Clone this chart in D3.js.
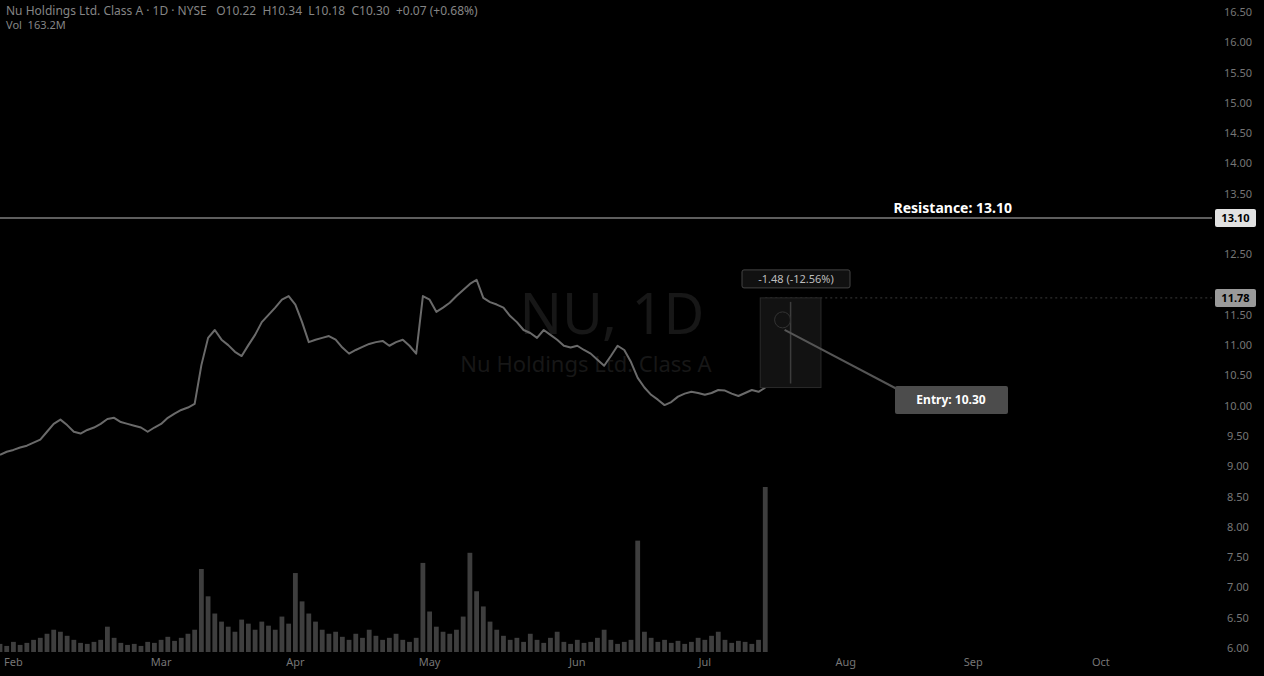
<!DOCTYPE html>
<html>
<head>
<meta charset="utf-8">
<script src="https://cdn.jsdelivr.net/npm/d3@7"></script>
<style>
  html, body { margin: 0; padding: 0; background: #000; }
  svg { display: block; }
  text { font-family: "Noto Sans", "DejaVu Sans", sans-serif; }
</style>
</head>
<body>
<svg id="chart" width="1264" height="676"></svg>
<script>
// ---------- data ----------
const closes = [
  9.19, 9.24, 9.27, 9.31, 9.34, 9.39, 9.44, 9.57, 9.70, 9.77,
  9.68, 9.57, 9.54, 9.60, 9.64, 9.70, 9.78, 9.80, 9.73, 9.70,
  9.67, 9.64, 9.57, 9.64, 9.70, 9.80, 9.87, 9.93, 9.97, 10.03,
  10.67, 11.12, 11.25, 11.09, 11.00, 10.89, 10.82, 11.00, 11.17, 11.38,
  11.50, 11.62, 11.75, 11.81, 11.67, 11.38, 11.05, 11.09, 11.12, 11.15,
  11.09, 10.96, 10.86, 10.92, 10.97, 11.02, 11.05, 11.07, 10.99, 11.05,
  11.09, 10.99, 10.86, 11.81, 11.75, 11.55, 11.62, 11.70, 11.81, 11.91,
  12.01, 12.08, 11.78, 11.71, 11.67, 11.62, 11.48, 11.38, 11.25, 11.20,
  11.12, 11.25, 11.17, 11.09, 10.99, 10.96, 10.99, 10.92, 10.86, 10.76,
  10.66, 10.82, 10.99, 10.92, 10.72, 10.46, 10.30, 10.18, 10.10, 10.01,
  10.06, 10.15, 10.20, 10.23, 10.21, 10.18, 10.21, 10.26, 10.25, 10.20,
  10.16, 10.21, 10.26, 10.23, 10.30
];
const volumes = [ // millions
  8, 6, 10, 7, 9, 12, 14, 18, 22, 20,
  16, 12, 9, 8, 10, 12, 25, 14, 9, 7,
  8, 6, 10, 9, 12, 15, 11, 14, 18, 22,
  82, 55, 38, 30, 25, 20, 32, 28, 22, 30,
  26, 22, 35, 28, 78, 50, 38, 30, 22, 18,
  20, 15, 12, 18, 14, 22, 16, 12, 14, 18,
  12, 10, 14, 88, 40, 25, 20, 18, 22, 35,
  98, 60, 45, 30, 22, 16, 12, 14, 10, 18,
  12, 9, 14, 20, 10, 8, 12, 9, 10, 14,
  22, 12, 8, 10, 12, 110, 20, 14, 10, 12,
  9, 11, 8, 10, 14, 12, 16, 20, 12, 9,
  11, 10, 8, 12, 163
];
const monthLabels = ["Feb", "Mar", "Apr", "May", "Jun", "Jul", "Aug", "Sep", "Oct"];
const monthStartIndex = [2, 24, 44, 64, 86, 105, 126, 145, 164];
const priceTicks = d3.range(6.0, 16.51, 0.5);
const resistanceLevel = 13.10;
const rangeTop = 11.78;
const rangeBottom = 10.30;
const rangeStartIndex = 114;
const rangeEndIndex = 122;
const titleText = "Nu Holdings Ltd. Class A · 1D · NYSE   O10.22  H10.34  L10.18  C10.30  +0.07 (+0.68%)";
const volText = "Vol  163.2M";
const watermark = "NU, 1D";
const watermarkSub = "Nu Holdings Ltd. Class A";

// ---------- layout ----------
const W = 1264, H = 676;
const plotRight = 1212;
const svg = d3.select("#chart");
svg.append("rect").attr("width", W).attr("height", H).attr("fill", "#000");

const x = d3.scaleLinear().domain([0, 181]).range([0, plotRight + 3]);
const y = d3.scaleLinear().domain([6.0, 16.5]).range([648, 12]);
const yVol = d3.scaleLinear().domain([0, d3.max(volumes)]).range([652, 487]);

// watermark
svg.append("text").attr("x", 612).attr("y", 334).attr("text-anchor", "middle")
  .attr("font-size", 56).attr("fill", "#171717").text(watermark);
svg.append("text").attr("x", 586).attr("y", 372).attr("text-anchor", "middle")
  .attr("font-size", 22).attr("fill", "#171717").text(watermarkSub);

// volume bars
svg.append("g").selectAll("rect").data(volumes).join("rect")
  .attr("x", (d, i) => x(i) - 2.4)
  .attr("width", 4.8)
  .attr("y", d => yVol(d))
  .attr("height", d => yVol(0) - yVol(d))
  .attr("fill", "#3e3e3e");

// resistance line
svg.append("line").attr("x1", 0).attr("x2", plotRight)
  .attr("y1", y(resistanceLevel)).attr("y2", y(resistanceLevel))
  .attr("stroke", "#5e5e5e").attr("stroke-width", 2);
svg.append("text").attr("x", 1012).attr("y", y(resistanceLevel) - 5)
  .attr("text-anchor", "end").attr("font-size", 14).attr("font-weight", "bold")
  .attr("fill", "#ffffff").text("Resistance: " + resistanceLevel.toFixed(2));

// range level dotted line
svg.append("line").attr("x1", x(rangeStartIndex)).attr("x2", plotRight)
  .attr("y1", y(rangeTop)).attr("y2", y(rangeTop))
  .attr("stroke", "#3a3a3a").attr("stroke-width", 1).attr("stroke-dasharray", "2,3");

// price line
const line = d3.line().x((d, i) => x(i)).y(d => y(d)).curve(d3.curveLinear);
svg.append("path").datum(closes).attr("d", line)
  .attr("fill", "none").attr("stroke", "#6a6a6a").attr("stroke-width", 2)
  .attr("stroke-linejoin", "round");

// price range tool
const rx0 = x(rangeStartIndex) - 5, rx1 = x(rangeEndIndex) + 2;
svg.append("rect").attr("x", rx0).attr("y", y(rangeTop))
  .attr("width", rx1 - rx0).attr("height", y(rangeBottom) - y(rangeTop))
  .attr("fill", "#121212").attr("stroke", "#2a2a2a");
const midX = (rx0 + rx1) / 2;
svg.append("line").attr("x1", midX).attr("x2", midX)
  .attr("y1", y(rangeTop) + 4).attr("y2", y(rangeBottom) - 4)
  .attr("stroke", "#3c3c3c").attr("stroke-width", 1.5);
svg.append("circle").attr("cx", midX - 8).attr("cy", y(rangeTop) + 22).attr("r", 8)
  .attr("fill", "none").attr("stroke", "#333");
const delta = rangeBottom - rangeTop;
const lbl = svg.append("g");
lbl.append("rect").attr("x", 742).attr("y", y(rangeTop) - 28).attr("width", 108).attr("height", 18)
  .attr("fill", "#111").attr("stroke", "#444").attr("rx", 2);
lbl.append("text").attr("x", 796).attr("y", y(rangeTop) - 15).attr("text-anchor", "middle")
  .attr("font-size", 11).attr("fill", "#bdbdbd")
  .text(delta.toFixed(2) + " (" + (delta / rangeTop * 100).toFixed(2) + "%)");

// callout
const cx0 = midX - 6, cy0 = y(rangeTop) + 32;
svg.append("line").attr("x1", cx0).attr("y1", cy0).attr("x2", 897).attr("y2", 389)
  .attr("stroke", "#555").attr("stroke-width", 2);
svg.append("rect").attr("x", 895).attr("y", 386).attr("width", 113).attr("height", 28)
  .attr("fill", "#4c4c4c").attr("rx", 2);
svg.append("text").attr("x", 951).attr("y", 404).attr("text-anchor", "middle")
  .attr("font-size", 12).attr("font-weight", "bold").attr("fill", "#ffffff")
  .text("Entry: " + rangeBottom.toFixed(2));

// price axis
const hiLevels = [resistanceLevel, rangeTop];
svg.append("g").selectAll("text")
  .data(priceTicks.filter(p => hiLevels.every(h => Math.abs(y(p) - y(h)) > 14)))
  .join("text")
  .attr("x", 1238).attr("y", d => y(d) + 4).attr("text-anchor", "middle")
  .attr("font-size", 11).attr("fill", "#767676")
  .text(d => d.toFixed(2));

function axisTag(level, fill, textFill) {
  svg.append("rect").attr("x", 1215).attr("y", y(level) - 9).attr("width", 41).attr("height", 18)
    .attr("fill", fill).attr("rx", 2);
  svg.append("text").attr("x", 1235.5).attr("y", y(level) + 4).attr("text-anchor", "middle")
    .attr("font-size", 11).attr("font-weight", "bold").attr("fill", textFill).text(level.toFixed(2));
}
axisTag(resistanceLevel, "#e2e2e2", "#000");
axisTag(rangeTop, "#9a9a9a", "#000");

// time axis
svg.append("g").selectAll("text").data(monthLabels).join("text")
  .attr("x", (d, i) => x(monthStartIndex[i])).attr("y", 666).attr("text-anchor", "middle")
  .attr("font-size", 11).attr("fill", "#767676").text(d => d);

// legend
svg.append("text").attr("x", 6).attr("y", 15).attr("font-size", 12).attr("fill", "#858585")
  .attr("xml:space", "preserve").text(titleText);
svg.append("text").attr("x", 6).attr("y", 29).attr("font-size", 11).attr("fill", "#858585")
  .attr("xml:space", "preserve").text(volText);
</script>
</body>
</html>
